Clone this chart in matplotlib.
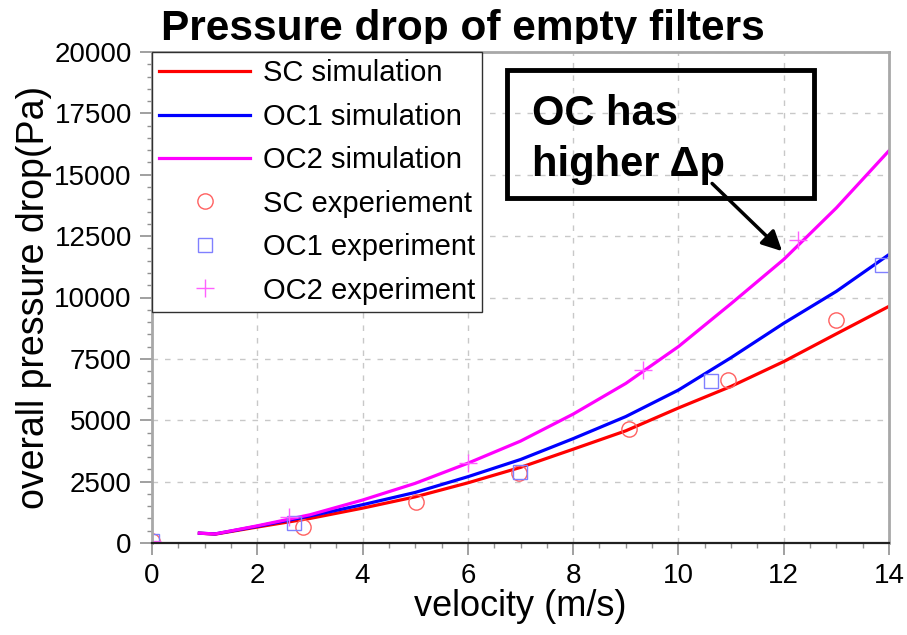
import matplotlib
matplotlib.use("Agg")
import matplotlib.pyplot as plt
from matplotlib.patches import Rectangle
from matplotlib.transforms import Bbox, TransformedBbox
from matplotlib.ticker import MultipleLocator

plt.rcParams['font.family'] = ['Liberation Sans', 'DejaVu Sans']

# simulation curves
v_sim = [0.9, 1.2, 2, 3, 4, 5, 6, 7, 8, 9, 10, 11, 12, 13, 14]
sc_sim = [400, 360, 650, 1000, 1420, 1880, 2450, 3080, 3820, 4570, 5500, 6380, 7390, 8520, 9640]
oc1_sim = [400, 370, 680, 1100, 1560, 2060, 2700, 3400, 4250, 5150, 6230, 7550, 8950, 10250, 11750]
oc2_sim = [400, 370, 700, 1150, 1750, 2430, 3250, 4150, 5250, 6500, 8000, 9750, 11550, 13650, 15980]

# experiments
v_sc = [0, 2.87, 5.02, 6.97, 9.06, 10.95, 13.0]
sc_exp = [100, 650, 1660, 2840, 4660, 6630, 9080]
v_oc1 = [0, 2.7, 6.99, 10.62, 13.87]
oc1_exp = [100, 810, 2900, 6580, 11340]
v_oc2 = [0, 2.6, 6.0, 9.33, 12.28]
oc2_exp = [100, 1050, 3250, 7050, 12350]

fig = plt.figure(figsize=(9.07, 6.35), dpi=100)
ax = fig.add_axes([152 / 907, 1 - 543 / 635, (889 - 152) / 907, (543 - 52) / 635])

ax.plot(v_sim, sc_sim, color='#ff0000', lw=2.3, label='SC simulation')
ax.plot(v_sim, oc1_sim, color='#0000ff', lw=2.3, label='OC1 simulation')
ax.plot(v_sim, oc2_sim, color='#ff00ff', lw=2.3, label='OC2 simulation')
ax.plot(v_sc, sc_exp, 'o', ms=11, mfc='none', mec='#ff6060', mew=1.0, label='SC experiement')
ax.plot(v_oc1, oc1_exp, 's', ms=10, mfc='none', mec='#8080ff', mew=1.0, label='OC1 experiment')
ax.plot(v_oc2, oc2_exp, '+', ms=13, mec='#ff60ff', mew=1.0, label='OC2 experiment')

ax.set_xlim(0, 14)
ax.set_ylim(0, 20000)
ax.xaxis.set_major_locator(MultipleLocator(2))
ax.xaxis.set_minor_locator(MultipleLocator(0.5))
ax.yaxis.set_major_locator(MultipleLocator(2500))
ax.yaxis.set_minor_locator(MultipleLocator(500))
ax.grid(True, which='major', color='#c8c8c8', ls=(0, (4, 5)), lw=1.0)
ax.tick_params(which='major', direction='out', length=8.5, width=1.2, color='#909090',
               labelsize=20, pad=6)
ax.tick_params(which='minor', direction='out', length=3.5, width=1.0, color='#909090')

for side in ['left', 'top', 'right']:
    ax.spines[side].set_color('#a8a8a8')
    ax.spines[side].set_linewidth(2)
ax.spines['bottom'].set_color('#202020')
ax.spines['bottom'].set_linewidth(1.6)

ax.set_xlabel('velocity (m/s)', fontsize=26, labelpad=0)
ax.set_ylabel('overall pressure drop(Pa)', fontsize=27, labelpad=2)

leg = ax.legend(loc='upper left', bbox_to_anchor=(0, 1), borderaxespad=0, fontsize=21,
                frameon=True, fancybox=False, edgecolor='#303030', framealpha=1,
                handlelength=3.1, handletextpad=0.45, labelspacing=0.53, borderpad=0.25)
leg.get_frame().set_linewidth(1.0)

# annotation box
ax.add_patch(Rectangle((6.74, 14037), 5.84, 5234, fill=False, ec='black', lw=3.5, zorder=6))
ax.text(7.22, 17040, 'OC has', fontsize=30, fontweight='bold', va='baseline', zorder=7)
ax.text(7.22, 14930, 'higher \u0394p', fontsize=30, fontweight='bold', va='baseline', zorder=7)
ax.annotate('', xy=(11.97, 11887), xytext=(10.64, 14645),
            arrowprops=dict(arrowstyle='-|>,head_length=1.2,head_width=0.6', color='black',
                            lw=2.5, shrinkA=0, shrinkB=0), zorder=7)

# title, its bottom hidden behind the plot frame
t = fig.text(463 / 907, 1 - 40 / 635, 'Pressure drop of empty filters', fontsize=30.5,
             fontweight='bold', ha='center', va='baseline')
t.set_clip_box(TransformedBbox(Bbox([[0, 1 - 44 / 635], [1, 1]]), fig.transFigure))

fig.savefig('out.png', dpi=100)
